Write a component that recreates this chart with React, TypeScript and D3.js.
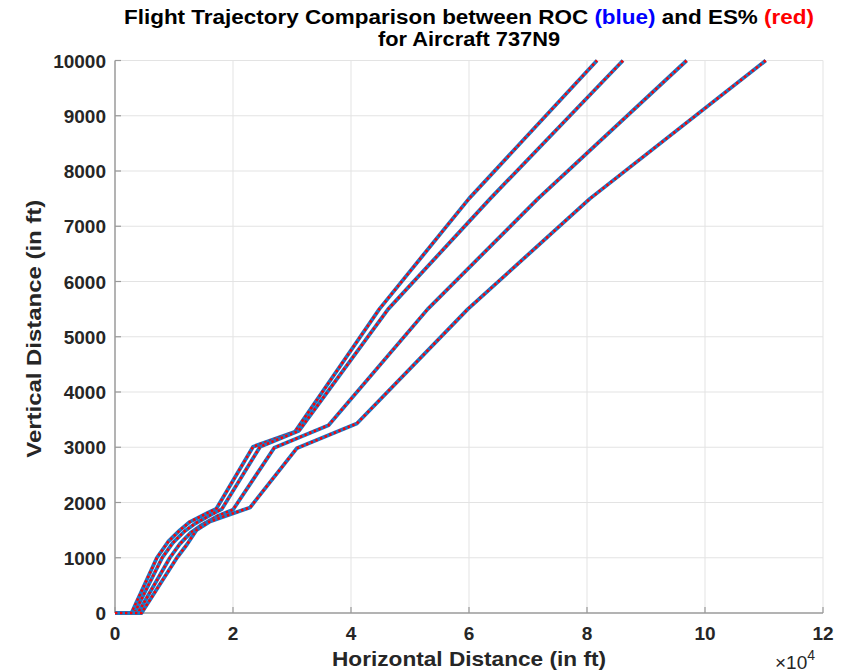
import React, { useRef, useEffect } from 'react';
import * as d3 from 'd3';

// horizontal distance (ft) and altitude (ft) for each trajectory
const distA = [0, 2800, 7100, 9000, 11000, 12700, 15500, 17200, 23400, 30500, 44800, 60000, 81700];
const altA = [0, 0, 1000, 1290, 1500, 1650, 1800, 1890, 3010, 3280, 5500, 7500, 10000];
const distB = [0, 3300, 8000, 9800, 11800, 13600, 16300, 18100, 24600, 31200, 46300, 63600, 86100];
const altB = [0, 0, 1000, 1270, 1480, 1620, 1780, 1880, 3010, 3300, 5500, 7500, 10000];
const distC = [0, 3900, 9300, 11000, 12800, 14800, 17500, 20000, 27000, 36200, 53000, 71700, 96900];
const altC = [0, 0, 1000, 1250, 1450, 1600, 1760, 1870, 2990, 3400, 5500, 7500, 10000];
const distD = [0, 4500, 10500, 12200, 13800, 16000, 18300, 22900, 30800, 41000, 59800, 80500, 110300];
const altD = [0, 0, 1000, 1240, 1500, 1650, 1740, 1910, 2980, 3430, 5500, 7500, 10000];

const xTicks = [0, 2, 4, 6, 8, 10, 12];
const yTicks = [0, 1000, 2000, 3000, 4000, 5000, 6000, 7000, 8000, 9000, 10000];

const App = () => {
  const svgRef = useRef(null);

  useEffect(() => {
    const width = 844;
    const height = 672;
    const left = 115, right = 823, top = 60.5, bottom = 613;

    const svg = d3.select(svgRef.current)
      .attr('width', width)
      .attr('height', height);
    svg.selectAll('*').remove();

    const x = d3.scaleLinear().domain([0, 12e4]).range([left, right]);
    const y = d3.scaleLinear().domain([0, 10000]).range([bottom, top]);

    const font = "'Liberation Sans', Arial, sans-serif";
    const textColor = '#262626';

    // grid
    svg.append('g').selectAll('line')
      .data(xTicks.slice(1))
      .enter().append('line')
      .attr('x1', d => x(d * 1e4)).attr('x2', d => x(d * 1e4))
      .attr('y1', top).attr('y2', bottom)
      .attr('stroke', '#e3e3e3').attr('stroke-width', 1);
    svg.append('g').selectAll('line')
      .data(yTicks.slice(1))
      .enter().append('line')
      .attr('x1', left).attr('x2', right)
      .attr('y1', d => y(d)).attr('y2', d => y(d))
      .attr('stroke', '#e3e3e3').attr('stroke-width', 1);

    // axes lines
    svg.append('line')
      .attr('x1', left).attr('x2', left).attr('y1', top).attr('y2', bottom)
      .attr('stroke', '#9a9a9a').attr('stroke-width', 1.5);
    svg.append('line')
      .attr('x1', left).attr('x2', right).attr('y1', bottom).attr('y2', bottom)
      .attr('stroke', '#9a9a9a').attr('stroke-width', 1.5);

    // tick marks
    svg.append('g').selectAll('line')
      .data(yTicks)
      .enter().append('line')
      .attr('x1', left).attr('x2', left + 6)
      .attr('y1', d => y(d)).attr('y2', d => y(d))
      .attr('stroke', '#9a9a9a').attr('stroke-width', 1.2);
    svg.append('g').selectAll('line')
      .data(xTicks)
      .enter().append('line')
      .attr('x1', d => x(d * 1e4)).attr('x2', d => x(d * 1e4))
      .attr('y1', bottom).attr('y2', bottom - 6)
      .attr('stroke', '#9a9a9a').attr('stroke-width', 1.2);

    // tick labels
    svg.append('g').selectAll('text')
      .data(yTicks)
      .enter().append('text')
      .attr('x', left - 9)
      .attr('y', d => y(d) + 7)
      .attr('text-anchor', 'end')
      .style('font-family', font)
      .style('font-size', '19px')
      .style('font-weight', 'bold')
      .attr('fill', textColor)
      .text(d => d);
    svg.append('g').selectAll('text')
      .data(xTicks)
      .enter().append('text')
      .attr('x', d => x(d * 1e4))
      .attr('y', bottom + 27)
      .attr('text-anchor', 'middle')
      .style('font-family', font)
      .style('font-size', '19px')
      .style('font-weight', 'bold')
      .attr('fill', textColor)
      .text(d => d);

    // trajectories: blue solid underneath, red dotted on top
    const line = d3.line<[number, number]>()
      .x(d => x(d[0]))
      .y(d => y(d[1]));
    const sets = [
      [distA, altA],
      [distB, altB],
      [distC, altC],
      [distD, altD],
    ];
    sets.forEach(([xs, ys]) => {
      const pts = xs.map((v, i) => [v, ys[i]] as [number, number]);
      svg.append('path')
        .attr('d', line(pts))
        .attr('fill', 'none')
        .attr('stroke', '#1f77c4')
        .attr('stroke-width', 3.8)
        .attr('stroke-linejoin', 'round');
      svg.append('path')
        .attr('d', line(pts))
        .attr('fill', 'none')
        .attr('stroke', '#ff0000')
        .attr('stroke-width', 2.6)
        .attr('stroke-dasharray', '2.4 2.6');
    });

    // title
    const title = svg.append('text')
      .attr('x', (left + right) / 2)
      .attr('y', 24)
      .attr('text-anchor', 'middle')
      .attr('textLength', 690)
      .attr('lengthAdjust', 'spacingAndGlyphs')
      .style('font-family', font)
      .style('font-size', '20px')
      .style('font-weight', 'bold')
      .attr('fill', '#000');
    title.append('tspan').text('Flight Trajectory Comparison between ROC ');
    title.append('tspan').attr('fill', '#0000ff').text('(blue)');
    title.append('tspan').text(' and ES% ');
    title.append('tspan').attr('fill', '#ff0000').text('(red)');
    svg.append('text')
      .attr('x', (left + right) / 2)
      .attr('y', 46)
      .attr('text-anchor', 'middle')
      .attr('textLength', 182)
      .attr('lengthAdjust', 'spacingAndGlyphs')
      .style('font-family', font)
      .style('font-size', '20px')
      .style('font-weight', 'bold')
      .attr('fill', '#000')
      .text('for Aircraft 737N9');

    // axis labels
    svg.append('text')
      .attr('x', (left + right) / 2)
      .attr('y', 666)
      .attr('text-anchor', 'middle')
      .attr('textLength', 274)
      .attr('lengthAdjust', 'spacingAndGlyphs')
      .style('font-family', font)
      .style('font-size', '21px')
      .style('font-weight', 'bold')
      .attr('fill', textColor)
      .text('Horizontal Distance (in ft)');
    svg.append('text')
      .attr('transform', `translate(41,${(top + bottom) / 2 - 8}) rotate(-90)`)
      .attr('text-anchor', 'middle')
      .attr('textLength', 258)
      .attr('lengthAdjust', 'spacingAndGlyphs')
      .style('font-family', font)
      .style('font-size', '21px')
      .style('font-weight', 'bold')
      .attr('fill', textColor)
      .text('Vertical Distance (in ft)');

    // exponent
    const exp = svg.append('text')
      .attr('x', 775)
      .attr('y', 669)
      .style('font-family', font)
      .style('font-size', '19px')
      .attr('fill', textColor);
    exp.append('tspan').text('\u00d710');
    exp.append('tspan').attr('dy', -9).style('font-size', '14px').text('4');
  }, []);

  return (
    <svg ref={svgRef} style={{ position: 'absolute', left: 0, top: 0 }}></svg>
  );
};

export default App;
